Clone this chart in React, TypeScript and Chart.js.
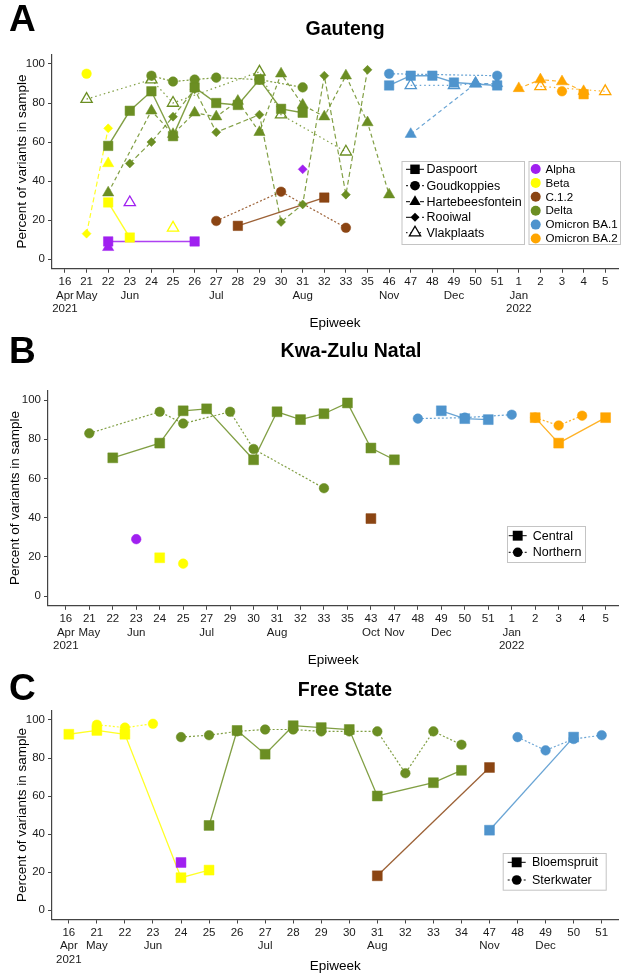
import React, { useEffect, useRef } from 'react';
import { Chart, registerables } from 'chart.js';

Chart.register(...registerables);

const FONT = "'Liberation Sans', Arial, Helvetica, sans-serif";
Chart.defaults.font.family = FONT;

// ---------- Variants ----------
const variantNames = ['Alpha', 'Beta', 'C.1.2', 'Delta', 'Omicron BA.1', 'Omicron BA.2'];
const variantColors = ['#A020F0', '#FFFF00', '#8B4513', '#6B8E23', '#4F94CD', '#FFA500'];

// ---------- Gauteng ----------
const gautengWeeks = ['16', '21', '22', '23', '24', '25', '26', '27', '28', '29', '30', '31', '32', '33', '35', '46', '47', '48', '49', '50', '51', '1', '2', '3', '4', '5'];
const gautengMonths: Record<string, string> = { '16': 'Apr', '21': 'May', '23': 'Jun', '27': 'Jul', '31': 'Aug', '46': 'Nov', '49': 'Dec', '1': 'Jan' };
const gautengYears: Record<string, string> = { '16': '2021', '1': '2022' };
const gautengSites = ['Daspoort', 'Goudkoppies', 'Hartebeesfontein', 'Rooiwal', 'Vlakplaats'];

const gDaspoortAlpha: [string, number][] = [['22', 9], ['26', 9]];
const gDaspoortBeta: [string, number][] = [['22', 29], ['23', 11]];
const gDaspoortC12: [string, number][] = [['28', 17], ['32', 31.5]];
const gDaspoortDelta: [string, number][] = [['22', 58], ['23', 76], ['24', 86], ['25', 63], ['26', 88], ['27', 80], ['28', 79], ['29', 92], ['30', 77], ['31', 75]];
const gDaspoortBA1: [string, number][] = [['46', 89], ['47', 94], ['48', 94], ['49', 90.5], ['51', 89]];
const gDaspoortBA2: [string, number][] = [['4', 84.5]];

const gGoudBeta: [string, number][] = [['21', 95]];
const gGoudC12: [string, number][] = [['27', 19.5], ['30', 34.5], ['33', 16]];
const gGoudDelta: [string, number][] = [['24', 94], ['25', 91], ['26', 92], ['27', 93], ['29', 92], ['31', 88]];
const gGoudBA1: [string, number][] = [['46', 95], ['51', 94]];
const gGoudBA2: [string, number][] = [['3', 86]];

const gHarteAlpha: [string, number][] = [['22', 6]];
const gHarteBeta: [string, number][] = [['22', 49]];
const gHarteDelta: [string, number][] = [['22', 34], ['24', 76], ['25', 64], ['26', 75], ['27', 73], ['28', 81], ['29', 65], ['30', 95], ['31', 79], ['32', 73], ['33', 94], ['35', 70], ['46', 33]];
const gHarteBA1: [string, number][] = [['47', 64], ['50', 90], ['51', 90]];
const gHarteBA2: [string, number][] = [['1', 87.5], ['2', 92], ['3', 91], ['4', 86]];

const gRooiwalAlpha: [string, number][] = [['31', 46]];
const gRooiwalBeta: [string, number][] = [['21', 13], ['22', 67]];
const gRooiwalDelta: [string, number][] = [['23', 49], ['24', 60], ['25', 73], ['26', 87], ['27', 65], ['29', 74], ['30', 19], ['31', 28], ['32', 94], ['33', 33], ['35', 97]];

const gVlakAlpha: [string, number][] = [['23', 29]];
const gVlakBeta: [string, number][] = [['25', 16]];
const gVlakDelta: [string, number][] = [['21', 82], ['24', 92], ['25', 80], ['29', 96], ['30', 74], ['33', 55]];
const gVlakBA1: [string, number][] = [['47', 89], ['49', 89], ['50', 90]];
const gVlakBA2: [string, number][] = [['2', 88.5], ['5', 86]];

// ---------- Kwa-Zulu Natal ----------
const kznWeeks = ['16', '21', '22', '23', '24', '25', '27', '29', '30', '31', '32', '33', '35', '43', '47', '48', '49', '50', '51', '1', '2', '3', '4', '5'];
const kznMonths: Record<string, string> = { '16': 'Apr', '21': 'May', '23': 'Jun', '27': 'Jul', '31': 'Aug', '43': 'Oct', '47': 'Nov', '49': 'Dec', '1': 'Jan' };
const kznYears: Record<string, string> = { '16': '2021', '1': '2022' };
const kznSites = ['Central', 'Northern'];

const kCentralBeta: [string, number][] = [['24', 19.5]];
const kCentralC12: [string, number][] = [['43', 39.5]];
const kCentralDelta: [string, number][] = [['22', 70.5], ['24', 78], ['25', 94.5], ['27', 95.5], ['30', 69.5], ['31', 94], ['32', 90], ['33', 93], ['35', 98.5], ['43', 75.5], ['47', 69.5]];
const kCentralBA1: [string, number][] = [['49', 94.5], ['50', 90.5], ['51', 90]];
const kCentralBA2: [string, number][] = [['2', 91], ['3', 78], ['5', 91]];

const kNorthernAlpha: [string, number][] = [['23', 29]];
const kNorthernBeta: [string, number][] = [['25', 16.5]];
const kNorthernDelta: [string, number][] = [['21', 83], ['24', 94], ['25', 88], ['29', 94], ['30', 75], ['33', 55]];
const kNorthernBA1: [string, number][] = [['48', 90.5], ['50', 91], ['1', 92.5]];
const kNorthernBA2: [string, number][] = [['2', 91], ['3', 87], ['4', 92]];

// ---------- Free State ----------
const fsWeeks = ['16', '21', '22', '23', '24', '25', '26', '27', '28', '29', '30', '31', '32', '33', '34', '47', '48', '49', '50', '51'];
const fsMonths: Record<string, string> = { '16': 'Apr', '21': 'May', '23': 'Jun', '27': 'Jul', '31': 'Aug', '47': 'Nov', '49': 'Dec' };
const fsYears: Record<string, string> = { '16': '2021' };
const fsSites = ['Bloemspruit', 'Sterkwater'];

const fBloemAlpha: [string, number][] = [['24', 25]];
const fBloemBeta: [string, number][] = [['16', 92.5], ['21', 94.5], ['22', 92.5], ['24', 17], ['25', 21]];
const fBloemC12: [string, number][] = [['31', 18], ['47', 75]];
const fBloemDelta: [string, number][] = [['25', 44.5], ['26', 94.5], ['27', 82], ['28', 97], ['29', 96], ['30', 95], ['31', 60], ['33', 67], ['34', 73.5]];
const fBloemBA1: [string, number][] = [['47', 42], ['50', 91]];

const fSterkBeta: [string, number][] = [['21', 97.5], ['22', 96], ['23', 98]];
const fSterkDelta: [string, number][] = [['24', 91], ['25', 92], ['26', 94], ['27', 95], ['28', 95], ['29', 94], ['30', 94], ['31', 94], ['32', 72], ['33', 94], ['34', 87]];
const fSterkBA1: [string, number][] = [['48', 91], ['49', 84], ['50', 90], ['51', 92]];

const yTickValues = [0, 20, 40, 60, 80, 100];

// ---------- Styles (not data) ----------
type SiteStyle = { shape: string; dash: number[]; radius: number; open?: boolean; lw: number };
const siteStyles: Record<string, SiteStyle> = {
  Daspoort: { shape: 'rect', dash: [], radius: 6.7, lw: 1.4 },
  Goudkoppies: { shape: 'circle', dash: [2, 2], radius: 4.8, lw: 1.2 },
  Hartebeesfontein: { shape: 'triangle', dash: [4, 3], radius: 6.5, lw: 1.2 },
  Rooiwal: { shape: 'rectRot', dash: [5, 3], radius: 4.5, lw: 1.2 },
  Vlakplaats: { shape: 'triangle', dash: [1.5, 3], radius: 6.5, open: true, lw: 1.2 },
  Central: { shape: 'rect', dash: [], radius: 7, lw: 1.3 },
  Northern: { shape: 'circle', dash: [2, 2], radius: 4.8, lw: 1.2 },
  Bloemspruit: { shape: 'rect', dash: [], radius: 7, lw: 1.3 },
  Sterkwater: { shape: 'circle', dash: [2, 2], radius: 4.8, lw: 1.2 },
};

type Series = { site: string; variant: string; points: [string, number][] };
type LegendDef = {
  box: { x: number; y: number; w: number; h: number };
  symX: number; textX: number; rows: number[]; items: string[]; kind: 'site' | 'variant'; fontSize: number;
};
type PanelDef = {
  top: number; height: number;
  letter: string; letterY: number;
  title: string; titleX: number; titleY: number;
  yTitleX: number; xTitleY: number;
  area: { left: number; right: number; top: number; bottom: number };
  xMin: number; xMax: number;
  weeks: string[]; months: Record<string, string>; years: Record<string, string>;
  series: Series[]; legends: LegendDef[];
};

const panels: PanelDef[] = [
  {
    top: 0, height: 335, letter: 'A', letterY: 21, title: 'Gauteng', titleX: 345, titleY: 30,
    yTitleX: 22, xTitleY: 323,
    area: { left: 52, right: 622, top: 54.25, bottom: 268.75 }, xMin: -0.6, xMax: 25.6,
    weeks: gautengWeeks, months: gautengMonths, years: gautengYears,
    series: [
      { site: 'Daspoort', variant: 'Alpha', points: gDaspoortAlpha },
      { site: 'Daspoort', variant: 'Beta', points: gDaspoortBeta },
      { site: 'Daspoort', variant: 'C.1.2', points: gDaspoortC12 },
      { site: 'Daspoort', variant: 'Delta', points: gDaspoortDelta },
      { site: 'Daspoort', variant: 'Omicron BA.1', points: gDaspoortBA1 },
      { site: 'Daspoort', variant: 'Omicron BA.2', points: gDaspoortBA2 },
      { site: 'Goudkoppies', variant: 'Beta', points: gGoudBeta },
      { site: 'Goudkoppies', variant: 'C.1.2', points: gGoudC12 },
      { site: 'Goudkoppies', variant: 'Delta', points: gGoudDelta },
      { site: 'Goudkoppies', variant: 'Omicron BA.1', points: gGoudBA1 },
      { site: 'Goudkoppies', variant: 'Omicron BA.2', points: gGoudBA2 },
      { site: 'Hartebeesfontein', variant: 'Alpha', points: gHarteAlpha },
      { site: 'Hartebeesfontein', variant: 'Beta', points: gHarteBeta },
      { site: 'Hartebeesfontein', variant: 'Delta', points: gHarteDelta },
      { site: 'Hartebeesfontein', variant: 'Omicron BA.1', points: gHarteBA1 },
      { site: 'Hartebeesfontein', variant: 'Omicron BA.2', points: gHarteBA2 },
      { site: 'Rooiwal', variant: 'Alpha', points: gRooiwalAlpha },
      { site: 'Rooiwal', variant: 'Beta', points: gRooiwalBeta },
      { site: 'Rooiwal', variant: 'Delta', points: gRooiwalDelta },
      { site: 'Vlakplaats', variant: 'Alpha', points: gVlakAlpha },
      { site: 'Vlakplaats', variant: 'Beta', points: gVlakBeta },
      { site: 'Vlakplaats', variant: 'Delta', points: gVlakDelta },
      { site: 'Vlakplaats', variant: 'Omicron BA.1', points: gVlakBA1 },
      { site: 'Vlakplaats', variant: 'Omicron BA.2', points: gVlakBA2 },
    ],
    legends: [
      { box: { x: 401.5, y: 161, w: 123.5, h: 84 }, symX: 415, textX: 426.5, rows: [169.3, 185.7, 201.7, 217.3, 232.7], items: gautengSites, kind: 'site', fontSize: 12.5 },
      { box: { x: 528.5, y: 161, w: 92.5, h: 84 }, symX: 535.7, textX: 545.5, rows: [169, 182.9, 196.8, 210.7, 224.6, 238.5], items: variantNames, kind: 'variant', fontSize: 11.6 },
    ],
  },
  {
    top: 335, height: 335, letter: 'B', letterY: 18, title: 'Kwa-Zulu Natal', titleX: 351, titleY: 17,
    yTitleX: 15, xTitleY: 325,
    area: { left: 48, right: 622, top: 55.2, bottom: 270.8 }, xMin: -0.76, xMax: 23.55,
    weeks: kznWeeks, months: kznMonths, years: kznYears,
    series: [
      { site: 'Central', variant: 'Beta', points: kCentralBeta },
      { site: 'Central', variant: 'C.1.2', points: kCentralC12 },
      { site: 'Central', variant: 'Delta', points: kCentralDelta },
      { site: 'Central', variant: 'Omicron BA.1', points: kCentralBA1 },
      { site: 'Central', variant: 'Omicron BA.2', points: kCentralBA2 },
      { site: 'Northern', variant: 'Alpha', points: kNorthernAlpha },
      { site: 'Northern', variant: 'Beta', points: kNorthernBeta },
      { site: 'Northern', variant: 'Delta', points: kNorthernDelta },
      { site: 'Northern', variant: 'Omicron BA.1', points: kNorthernBA1 },
      { site: 'Northern', variant: 'Omicron BA.2', points: kNorthernBA2 },
    ],
    legends: [
      { box: { x: 507, y: 191, w: 79, h: 37 }, symX: 517.7, textX: 532.7, rows: [200.7, 217.3], items: kznSites, kind: 'site', fontSize: 12.5 },
    ],
  },
  {
    top: 670, height: 303, letter: 'C', letterY: 20, title: 'Free State', titleX: 345, titleY: 21,
    yTitleX: 22, xTitleY: 296,
    area: { left: 52, right: 622, top: 40.5, bottom: 249.5 }, xMin: -0.6, xMax: 19.6,
    weeks: fsWeeks, months: fsMonths, years: fsYears,
    series: [
      { site: 'Bloemspruit', variant: 'Alpha', points: fBloemAlpha },
      { site: 'Bloemspruit', variant: 'Beta', points: fBloemBeta },
      { site: 'Bloemspruit', variant: 'C.1.2', points: fBloemC12 },
      { site: 'Bloemspruit', variant: 'Delta', points: fBloemDelta },
      { site: 'Bloemspruit', variant: 'Omicron BA.1', points: fBloemBA1 },
      { site: 'Sterkwater', variant: 'Beta', points: fSterkBeta },
      { site: 'Sterkwater', variant: 'Delta', points: fSterkDelta },
      { site: 'Sterkwater', variant: 'Omicron BA.1', points: fSterkBA1 },
    ],
    legends: [
      { box: { x: 502.7, y: 183, w: 104, h: 37.7 }, symX: 516.7, textX: 532, rows: [192.3, 210], items: fsSites, kind: 'site', fontSize: 12.5 },
    ],
  },
];

function shapePath(ctx: CanvasRenderingContext2D, shape: string, x: number, y: number, r: number) {
  ctx.beginPath();
  if (shape === 'circle') {
    ctx.arc(x, y, r, 0, Math.PI * 2);
  } else if (shape === 'rect') {
    const s = r * Math.SQRT1_2;
    ctx.rect(x - s, y - s, 2 * s, 2 * s);
  } else if (shape === 'triangle') {
    const a = (2 * Math.PI) / 3;
    ctx.moveTo(x, y - r);
    ctx.lineTo(x + Math.sin(a) * r, y - Math.cos(a) * r);
    ctx.lineTo(x + Math.sin(2 * a) * r, y - Math.cos(2 * a) * r);
    ctx.closePath();
  } else {
    ctx.moveTo(x - r, y);
    ctx.lineTo(x, y - r);
    ctx.lineTo(x + r, y);
    ctx.lineTo(x, y + r);
    ctx.closePath();
  }
}

function makeOverlay(p: PanelDef) {
  return {
    id: 'overlay' + p.letter,
    afterDraw(chart: any) {
      const ctx: CanvasRenderingContext2D = chart.ctx;
      const ca = chart.chartArea;
      ctx.save();
      ctx.fillStyle = '#000';
      ctx.textBaseline = 'middle';
      ctx.textAlign = 'left';
      ctx.font = `bold 37px ${FONT}`;
      ctx.fillText(p.letter, 9, p.letterY);
      ctx.textAlign = 'center';
      ctx.font = `bold 19.5px ${FONT}`;
      ctx.fillText(p.title, p.titleX, p.titleY);
      ctx.font = `13.5px ${FONT}`;
      ctx.fillText('Epiweek', (ca.left + ca.right) / 2, p.xTitleY);
      ctx.save();
      ctx.translate(p.yTitleX, (ca.top + ca.bottom) / 2);
      ctx.rotate(-Math.PI / 2);
      ctx.fillText('Percent of variants in sample', 0, 0);
      ctx.restore();

      p.legends.forEach((lg) => {
        ctx.fillStyle = '#fff';
        ctx.fillRect(lg.box.x, lg.box.y, lg.box.w, lg.box.h);
        ctx.strokeStyle = '#c4c4c4';
        ctx.lineWidth = 1;
        ctx.strokeRect(lg.box.x + 0.5, lg.box.y + 0.5, lg.box.w - 1, lg.box.h - 1);
        lg.items.forEach((name, i) => {
          const y = lg.rows[i];
          if (lg.kind === 'site') {
            const st = siteStyles[name];
            ctx.save();
            ctx.strokeStyle = '#000';
            ctx.lineWidth = 1;
            ctx.setLineDash(st.dash);
            ctx.beginPath();
            ctx.moveTo(lg.symX - 9, y);
            ctx.lineTo(lg.symX + 9, y);
            ctx.stroke();
            ctx.setLineDash([]);
            shapePath(ctx, st.shape, lg.symX, y, st.radius);
            if (st.open) {
              ctx.fillStyle = '#fff';
              ctx.fill();
              ctx.lineWidth = 1.3;
              ctx.stroke();
            } else {
              ctx.fillStyle = '#000';
              ctx.fill();
            }
            ctx.restore();
          } else {
            ctx.fillStyle = variantColors[variantNames.indexOf(name)];
            shapePath(ctx, 'circle', lg.symX, y, 5);
            ctx.fill();
          }
          ctx.fillStyle = '#000';
          ctx.textAlign = 'left';
          ctx.font = `${lg.fontSize}px ${FONT}`;
          ctx.fillText(name, lg.textX, y + 0.5);
        });
      });
      ctx.restore();
    },
  };
}

function buildConfig(p: PanelDef): any {
  const datasets: any[] = [];
  p.series.forEach((s) => {
    const st = siteStyles[s.site];
    const color = variantColors[variantNames.indexOf(s.variant)];
    const data = s.points.map(([w, v]) => ({ x: p.weeks.indexOf(w), y: v }));
    datasets.push({
      data, borderColor: color + 'D9', borderWidth: st.lw, borderDash: st.dash,
      pointRadius: 0, pointHoverRadius: 0, showLine: true, fill: false, order: 2,
      clip: false, tension: 0, spanGaps: true,
    });
    datasets.push({
      data, showLine: false, pointStyle: st.shape, pointRadius: st.radius, pointHoverRadius: st.radius,
      pointBackgroundColor: st.open ? 'rgba(255,255,255,0)' : color, pointBorderColor: color,
      pointBorderWidth: st.open ? 1.3 : 0.5, order: 1, clip: false,
    });
  });

  return {
    type: 'line',
    data: { datasets },
    options: {
      responsive: false,
      animation: false,
      events: [],
      layout: { padding: { left: 0, top: p.area.top, right: 626 - p.area.right, bottom: 0 } },
      plugins: { legend: { display: false }, tooltip: { enabled: false }, title: { display: false } },
      scales: {
        x: {
          type: 'linear', min: p.xMin, max: p.xMax,
          afterBuildTicks: (sc: any) => { sc.ticks = p.weeks.map((_, i) => ({ value: i })); },
          afterFit: (sc: any) => { sc.height = p.height - p.area.bottom; },
          ticks: {
            autoSkip: false, maxRotation: 0, minRotation: 0, padding: 2, color: '#1a1a1a',
            font: { size: 11.5, lineHeight: 1.2 },
            callback: (v: number) => {
              const w = p.weeks[Math.round(v)];
              return [w, p.months[w] || '', p.years[w] || ''];
            },
          },
          grid: { drawOnChartArea: false, drawTicks: true, tickLength: 4, color: '#444', lineWidth: 1 },
          border: { display: true, color: '#444', width: 1.2 },
        },
        y: {
          type: 'linear', min: -5, max: 105,
          afterBuildTicks: (sc: any) => { sc.ticks = yTickValues.map((v) => ({ value: v })); },
          afterFit: (sc: any) => { sc.width = p.area.left; },
          ticks: { padding: 3, color: '#1a1a1a', font: { size: 11.5 } },
          grid: { drawOnChartArea: false, drawTicks: true, tickLength: 4, color: '#444', lineWidth: 1 },
          border: { display: true, color: '#444', width: 1.2 },
        },
      },
    },
    plugins: [makeOverlay(p)],
  };
}

function PanelChart({ panel }: { panel: PanelDef }) {
  const ref = useRef<HTMLCanvasElement>(null);
  useEffect(() => {
    const chart = new Chart(ref.current as HTMLCanvasElement, buildConfig(panel));
    return () => chart.destroy();
  }, [panel]);
  return (
    <canvas
      ref={ref}
      width={626}
      height={panel.height}
      style={{ position: 'absolute', left: 0, top: panel.top, width: 626, height: panel.height }}
    />
  );
}

export default function App() {
  return (
    <div style={{ position: 'absolute', left: 0, top: 0, width: 626, height: 973, background: '#fff' }}>
      {panels.map((p) => (
        <PanelChart key={p.letter} panel={p} />
      ))}
    </div>
  );
}
